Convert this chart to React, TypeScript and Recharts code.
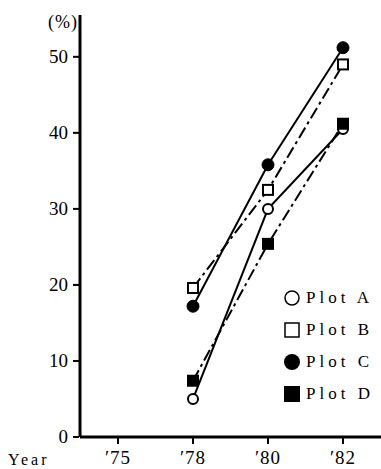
import React from 'react';
import { LineChart, Line, XAxis, YAxis } from 'recharts';

const years = ["′75", "′78", "′80", "′82"];
const plotA = [null, 5, 30, 40.5];
const plotB = [null, 19.6, 32.5, 49];
const plotC = [null, 17.2, 35.8, 51.2];
const plotD = [null, 7.4, 25.4, 41.2];
const yTicks = [0, 10, 20, 30, 40, 50];

const data = years.map((year, i) => ({
  year,
  a: plotA[i],
  b: plotB[i],
  c: plotC[i],
  d: plotD[i],
}));

const FONT = '"Liberation Serif", "DejaVu Serif", serif';

const Square = (filled: boolean) => (props: any) => {
  const { cx, cy, index } = props;
  if (cx == null || cy == null) return <g key={index} />;
  return (
    <rect
      key={index}
      x={cx - 5}
      y={cy - 5}
      width={10}
      height={10}
      fill={filled ? '#000' : '#fff'}
      stroke="#000"
      strokeWidth={2}
    />
  );
};

const YTick = (props: any) => {
  const { x, y, payload } = props;
  return (
    <g>
      <line x1={x + 1} x2={x + 7} y1={y} y2={y} stroke="#000" strokeWidth={2} />
      <text x={x - 4} y={y} dy={6} textAnchor="end" style={{ fontFamily: FONT, fontSize: 19 }} fill="#000">
        {payload.value}
      </text>
    </g>
  );
};

const XTick = (props: any) => {
  const { x, y, payload } = props;
  return (
    <g>
      <line x1={x} x2={x} y1={y - 1} y2={y - 8} stroke="#000" strokeWidth={2} />
      <text x={x} y={y + 19} textAnchor="middle" style={{ fontFamily: FONT, fontSize: 19, letterSpacing: 1 }} fill="#000">
        {payload.value}
      </text>
    </g>
  );
};

const legendItems = [
  { label: 'Plot A', kind: 'openCircle' },
  { label: 'Plot B', kind: 'openSquare' },
  { label: 'Plot C', kind: 'filledCircle' },
  { label: 'Plot D', kind: 'filledSquare' },
];

const LegendBox = () => (
  <div style={{ position: 'absolute', left: 283, top: 282, fontFamily: FONT, fontSize: 17 }}>
    {legendItems.map((it) => (
      <div key={it.label} style={{ display: 'flex', alignItems: 'center', height: 32 }}>
        <svg width={18} height={18} style={{ marginRight: 5 }}>
          {it.kind === 'openCircle' && <circle cx={9} cy={9} r={7} fill="#fff" stroke="#000" strokeWidth={1.5} />}
          {it.kind === 'filledCircle' && <circle cx={9} cy={9} r={8} fill="#000" />}
          {it.kind === 'openSquare' && <rect x={2} y={2} width={14} height={14} fill="#fff" stroke="#000" strokeWidth={1.5} />}
          {it.kind === 'filledSquare' && <rect x={1} y={1} width={16} height={16} fill="#000" />}
        </svg>
        <span style={{ letterSpacing: 4 }}>{it.label}</span>
      </div>
    ))}
  </div>
);

const App = () => {
  return (
    <div style={{ position: 'absolute', left: 0, top: 0, width: 381, height: 469, background: '#fff' }}>
      <LineChart width={381} height={469} data={data} margin={{ top: 15, right: 0, bottom: 0, left: 0 }}>
        <XAxis
          dataKey="year"
          height={32}
          padding={{ left: 38, right: 38 }}
          axisLine={{ stroke: '#000', strokeWidth: 3 }}
          tickLine={false}
          tick={<XTick />}
          interval={0}
        />
        <YAxis
          width={80}
          domain={[0, 55.5]}
          ticks={yTicks}
          axisLine={{ stroke: '#000', strokeWidth: 3 }}
          tickLine={false}
          tick={<YTick />}
          interval={0}
        />
        <Line
          dataKey="a"
          stroke="#000"
          strokeWidth={2}
          dot={{ r: 5, fill: '#fff', stroke: '#000', strokeWidth: 2 }}
          isAnimationActive={false}
        />
        <Line
          dataKey="b"
          stroke="#000"
          strokeWidth={2}
          strokeDasharray="12 4 3 4"
          dot={Square(false)}
          isAnimationActive={false}
        />
        <Line
          dataKey="c"
          stroke="#000"
          strokeWidth={2}
          dot={{ r: 6, fill: '#000', stroke: '#000', strokeWidth: 1 }}
          isAnimationActive={false}
        />
        <Line
          dataKey="d"
          stroke="#000"
          strokeWidth={2}
          strokeDasharray="12 4 3 4"
          dot={Square(true)}
          isAnimationActive={false}
        />
        <text x={78} y={28} textAnchor="end" style={{ fontFamily: FONT, fontSize: 18, letterSpacing: 1 }} fill="#000">(%)</text>
        <text x={8} y={465} style={{ fontFamily: FONT, fontSize: 16, letterSpacing: 3 }} fill="#000">Year</text>
      </LineChart>
      <LegendBox />
    </div>
  );
};

export default App;
